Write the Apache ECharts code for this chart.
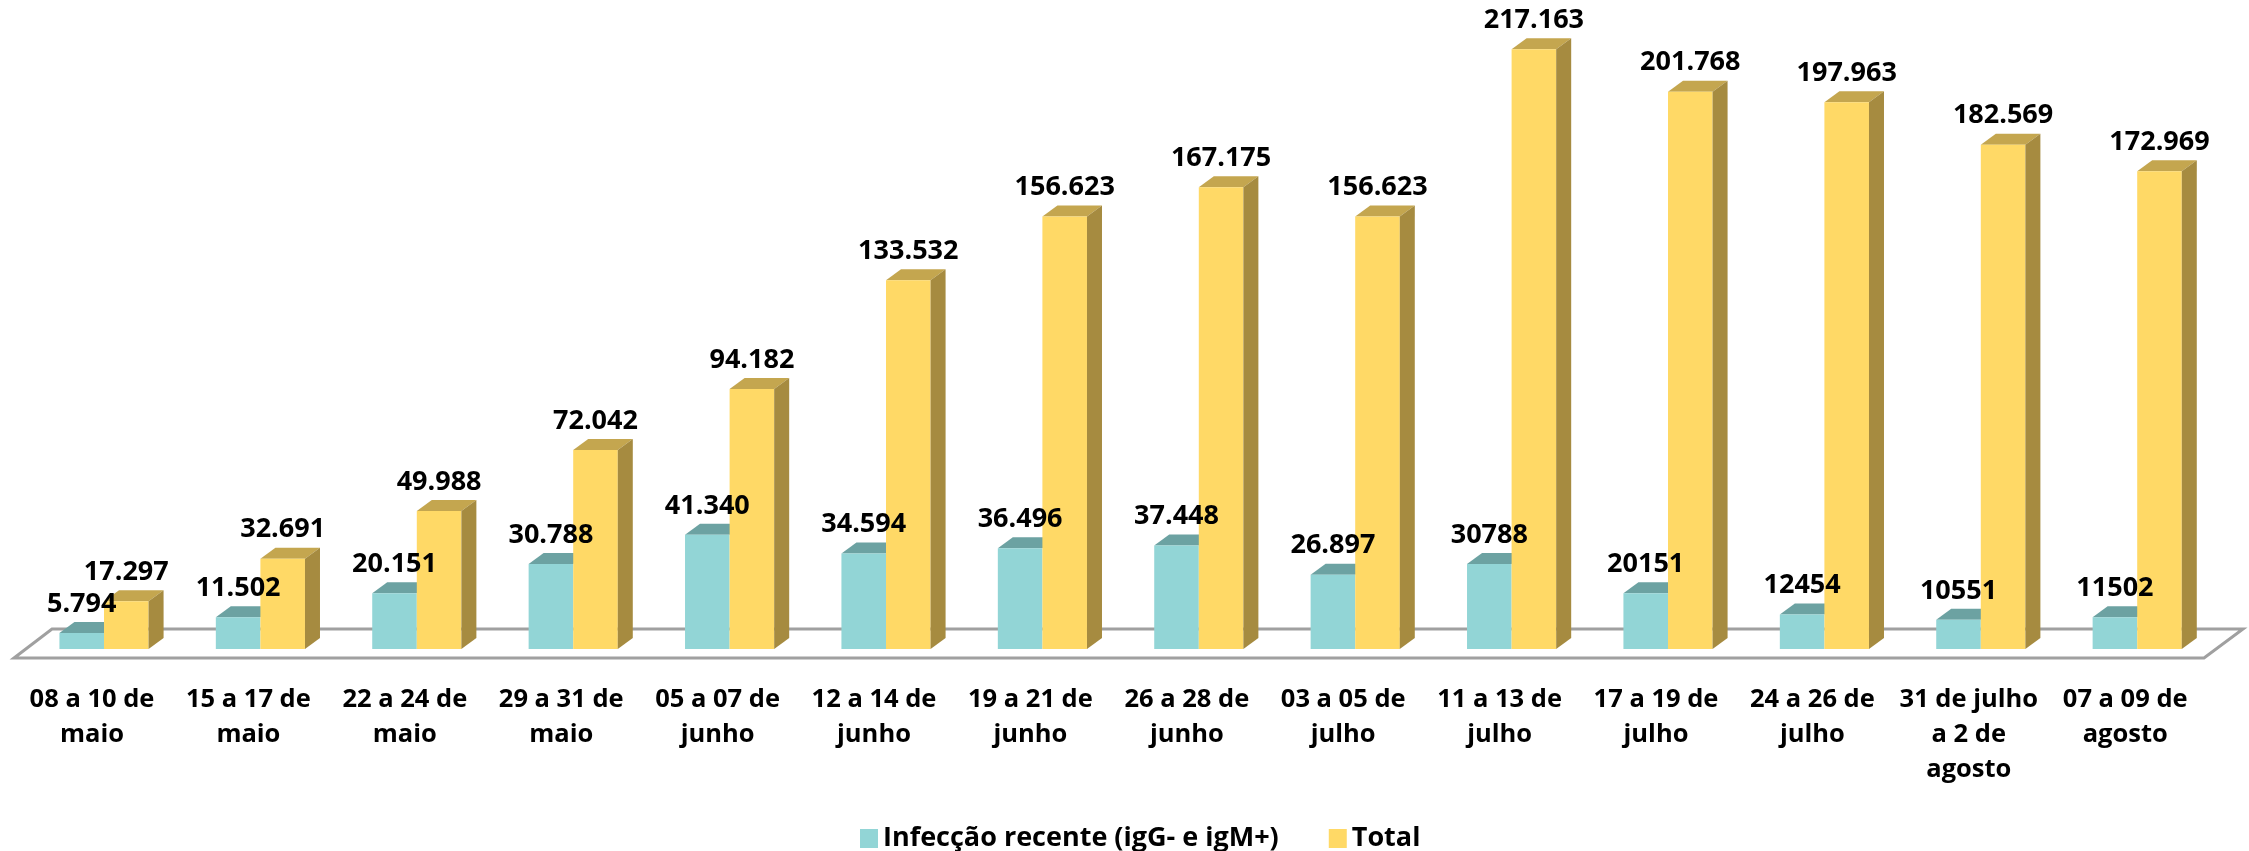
<!DOCTYPE html>
<html>
<head>
<meta charset="utf-8">
<script src="https://cdn.jsdelivr.net/npm/echarts@6/dist/echarts.min.js"></script>
<style>html,body{margin:0;padding:0;background:#fff}#c{width:2249px;height:851px}</style>
</head>
<body>
<div id="c"></div>
<script>
var categories = ['08 a 10 de\nmaio','15 a 17 de\nmaio','22 a 24 de\nmaio','29 a 31 de\nmaio','05 a 07 de\njunho','12 a 14 de\njunho','19 a 21 de\njunho','26 a 28 de\njunho','03 a 05 de\njulho','11 a 13 de\njulho','17 a 19 de\njulho','24 a 26 de\njulho','31 de julho\na 2 de\nagosto','07 a 09 de\nagosto'];
var recentValues = [5794, 11502, 20151, 30788, 41340, 34594, 36496, 37448, 26897, 30788, 20151, 12454, 10551, 11502];
var recentLabels = ['5.794','11.502','20.151','30.788','41.340','34.594','36.496','37.448','26.897','30788','20151','12454','10551','11502'];
var totalValues = [17297, 32691, 49988, 72042, 94182, 133532, 156623, 167175, 156623, 217163, 201768, 197963, 182569, 172969];
var totalLabels = ['17.297','32.691','49.988','72.042','94.182','133.532','156.623','167.175','156.623','217.163','201.768','197.963','182.569','172.969'];
var seriesNames = ['Infecção recente (igG- e igM+)', 'Total'];

var FONT = '"Open Sans", "Liberation Sans", sans-serif';
var W_RATIO = 0.285, DX_RATIO = 0.096, DY = 11;

function barRenderer(side, front, topc, sidec) {
  return function (params, api) {
    var idx = api.value(0), v = api.value(1);
    var base = api.coord([idx, 0]);
    var top = api.coord([idx, v]);
    var band = api.size([1, 0])[0];
    var w = band * W_RATIO, dx = band * DX_RATIO;
    var x0 = side === 0 ? base[0] - w : base[0];
    var x1 = x0 + w;
    var yb = base[1], yt = top[1];
    var children = [
      {type: 'polygon', shape: {points: [[x0, yt], [x0 + dx, yt - DY], [x1 + dx, yt - DY], [x1, yt]]}, style: {fill: topc}},
      {type: 'rect', shape: {x: x0, y: yt, width: w, height: yb - yt}, style: {fill: front}}
    ];
    if (side === 1) {
      children.push({type: 'polygon', shape: {points: [[x1, yt], [x1 + dx, yt - DY], [x1 + dx, yb - DY], [x1, yb]]}, style: {fill: sidec}});
    }
    return {type: 'group', children: children};
  };
}
function labelRenderer(side, labels) {
  return function (params, api) {
    var idx = api.value(0), v = api.value(1);
    var base = api.coord([idx, 0]);
    var top = api.coord([idx, v]);
    var band = api.size([1, 0])[0];
    var w = band * W_RATIO;
    var cx = side === 0 ? base[0] - w / 2 : base[0] + w / 2;
    return {type: 'text', x: cx, y: top[1] - 29, style: {text: labels[params.dataIndex], fill: '#000', font: 'bold 27px ' + FONT, align: 'center', verticalAlign: 'middle'}};
  };
}
function pairs(arr) { return arr.map(function (v, i) { return [i, v]; }); }

var chart = echarts.init(document.getElementById('c'), null, {renderer: 'canvas'});
chart.setOption({
  animation: false,
  backgroundColor: '#ffffff',
  grid: {left: 25.8, right: 33.6, top: 41.4, bottom: 202},
  graphic: [{
    type: 'polygon', z: 0,
    shape: {points: [[14, 658], [52, 629], [2243, 629], [2204, 658]]},
    style: {fill: '#ffffff', stroke: '#a0a0a0', lineWidth: 3}
  }],
  legend: {
    data: seriesNames,
    left: 855, top: 820, itemWidth: 18, itemHeight: 19, itemGap: 50,
    icon: 'rect',
    textStyle: {fontFamily: FONT, fontWeight: 'bold', fontSize: 27, color: '#000'}
  },
  xAxis: {
    type: 'category', data: categories,
    axisLine: {show: false}, axisTick: {show: false}, splitLine: {show: false},
    axisLabel: {interval: 0, margin: 33, fontFamily: FONT, fontWeight: 'bold', fontSize: 25.5, lineHeight: 35, color: '#000', padding: [0, 24, 0, 0]}
  },
  yAxis: {type: 'value', min: 0, max: 220000, show: false, splitLine: {show: false}},
  series: [
    {name: seriesNames[0], type: 'custom', renderItem: barRenderer(0, '#92d5d6', '#6ca2a2', '#5e9090'), data: pairs(recentValues), encode: {x: 0, y: 1}, itemStyle: {color: '#92d5d6'}, z: 2},
    {name: seriesNames[1], type: 'custom', renderItem: barRenderer(1, '#ffd966', '#c4a64f', '#a68b40'), data: pairs(totalValues), encode: {x: 0, y: 1}, itemStyle: {color: '#ffd966'}, z: 3},
    {name: 'lbl0', type: 'custom', renderItem: labelRenderer(0, recentLabels), data: pairs(recentValues), encode: {x: 0, y: 1}, z: 10, silent: true},
    {name: 'lbl1', type: 'custom', renderItem: labelRenderer(1, totalLabels), data: pairs(totalValues), encode: {x: 0, y: 1}, z: 10, silent: true}
  ]
});
</script>
</body>
</html>
